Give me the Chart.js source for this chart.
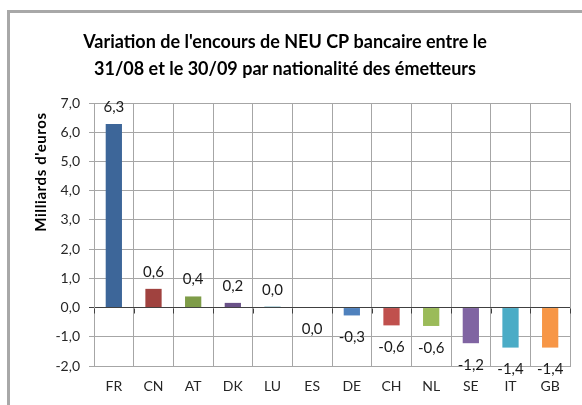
<!DOCTYPE html>
<html>
<head>
<meta charset="utf-8">
<script src="https://cdn.jsdelivr.net/npm/chart.js@4"></script>
<style>
  html, body { margin: 0; padding: 0; background: #fff; }
  #wrap { position: relative; width: 582px; height: 405px; overflow: hidden; }
  #frame { position: absolute; left: 7px; top: 10px; width: 700px; height: 500px;
           border-left: 3px solid #a8a8a8; border-top: 3px solid #a8a8a8; }
  canvas { position: absolute; left: 0; top: 0; }
</style>
</head>
<body>
<div id="wrap">
  <div id="frame"></div>
  <canvas id="c" width="582" height="405"></canvas>
</div>
<script>
const categories = ['FR', 'CN', 'AT', 'DK', 'LU', 'ES', 'DE', 'CH', 'NL', 'SE', 'IT', 'GB'];
const values = [6.28, 0.64, 0.38, 0.16, 0.03, 0.0, -0.27, -0.61, -0.63, -1.22, -1.37, -1.37];
const barColors = ['#3d6699', '#a0423f', '#7e9c48', '#6a5288', '#31859c', '#e46c0a',
                   '#4f81bd', '#c0504d', '#9bbb59', '#8064a2', '#4bacc6', '#f79646'];
const yTicks = { min: -2, max: 7, step: 1 };
const titleLines = ["Variation de l'encours de NEU CP bancaire entre le",
                    "31/08 et le 30/09 par nationalité des émetteurs"];
const yTitle = "Milliards d'euros";

const FONT = 'Lato, "Open Sans", sans-serif';
const fmt = v => (Math.abs(v) < 0.05 ? 0 : v).toFixed(1).replace('.', ',');

const extras = {
  id: 'extras',
  afterDatasetsDraw(chart) {
    const ctx = chart.ctx;
    const meta = chart.getDatasetMeta(0);
    const ys = chart.scales.y, xs = chart.scales.x;
    // data labels
    ctx.save();
    ctx.font = '15px ' + FONT;
    ctx.fillStyle = '#1a1a1a';
    ctx.textAlign = 'center';
    ctx.textBaseline = 'middle';
    meta.data.forEach((bar, i) => {
      const v = values[i];
      const y = v > 0 ? bar.y - 17 : bar.y + 22;
      ctx.fillText(fmt(v), bar.x, y);
    });
    ctx.restore();
    // small tick marks below zero line
    ctx.save();
    const y0 = Math.round(ys.getPixelForValue(0)) + 0.5;
    ctx.strokeStyle = '#404040';
    ctx.lineWidth = 1;
    const step = (xs.right - xs.left) / categories.length;
    for (let i = 0; i <= categories.length; i++) {
      const x = Math.round(xs.left + i * step) + 0.5;
      ctx.beginPath(); ctx.moveTo(x, y0); ctx.lineTo(x, y0 + 5); ctx.stroke();
    }
    ctx.restore();
  },
  afterDraw(chart) {
    const ctx = chart.ctx;
    const a = chart.chartArea;
    ctx.save();
    ctx.font = 'bold 15px ' + FONT;
    ctx.letterSpacing = '0.6px';
    ctx.fillStyle = '#000';
    ctx.textAlign = 'center';
    ctx.textBaseline = 'middle';
    ctx.translate(41, a.top + 69);
    ctx.rotate(-Math.PI / 2);
    ctx.fillText(yTitle, 0, 0);
    ctx.restore();
  }
};

new Chart(document.getElementById('c'), {
  type: 'bar',
  data: {
    labels: categories,
    datasets: [{
      data: values,
      backgroundColor: barColors,
      borderWidth: 0,
      barPercentage: 0.41,
      categoryPercentage: 1.0
    }]
  },
  options: {
    responsive: false,
    animation: false,
    events: [],
    layout: { padding: { left: 0, right: 12, top: 0, bottom: 11 } },
    plugins: {
      legend: { display: false },
      tooltip: { enabled: false },
      title: {
        display: true,
        text: titleLines,
        color: '#000',
        font: { family: FONT, size: 18, weight: 'bold', lineHeight: 1.5 },
        padding: { top: 29, bottom: 20 }
      }
    },
    scales: {
      x: {
        grid: { display: true, offset: true, color: '#a6a6a6', drawTicks: false },
        border: { display: true, color: '#a6a6a6' },
        ticks: { color: '#262626', font: { family: FONT, size: 14 }, padding: 12 },
        afterFit(s) { s.height = 405 - 366 - 11; }
      },
      y: {
        min: yTicks.min, max: yTicks.max,
        grid: {
          color: c => (c.tick && c.tick.value === 0 ? '#404040' : '#a6a6a6'),
          tickColor: c => (c.tick && c.tick.value === 0 ? '#404040' : '#a6a6a6'),
          tickLength: 5
        },
        border: { display: true, color: '#a6a6a6' },
        ticks: {
          stepSize: yTicks.step,
          color: '#262626',
          font: { family: FONT, size: 14 },
          padding: 9,
          callback: v => fmt(v)
        },
        afterFit(s) { s.width = 94; }
      }
    }
  },
  plugins: [extras]
});
</script>
</body>
</html>
